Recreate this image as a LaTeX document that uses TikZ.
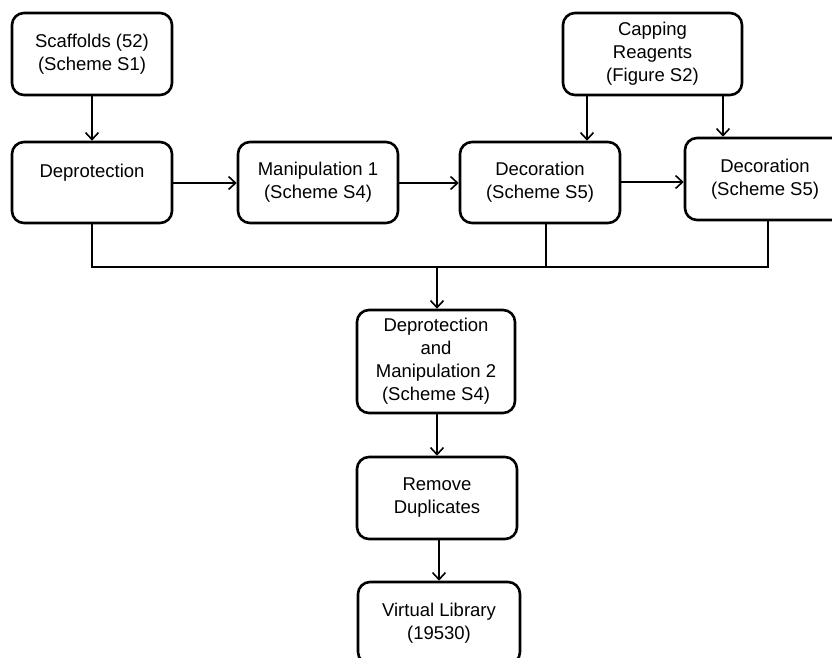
\documentclass[tikz,border=0pt]{standalone}
\usepackage{fontspec}
\setmainfont{Liberation Sans}
\usetikzlibrary{arrows.meta}
\tikzset{
  stepbox/.style={draw=black, line width=2.6pt, rounded corners=12pt, fill=white,
    align=center, inner sep=0pt, font=\fontsize{18.5}{23}\selectfont},
  conn/.style={draw=black, line width=2pt},
  arr/.style={conn, -{Straight Barb[length=7pt,width=13pt,line width=1.6pt]}}
}
\begin{document}
\begin{tikzpicture}[x=1pt,y=-1pt]
\useasboundingbox (0,0) rectangle (832,657);
\clip (0,0) rectangle (832,657);
\node[stepbox, minimum width=160pt, minimum height=82pt] (scaf) at (92,54) {Scaffolds (52)\\(Scheme S1)};
\node[stepbox, minimum width=160pt, minimum height=81pt] (dep) at (92,182.5) {Deprotection\\\mbox{}};
\node[stepbox, minimum width=160pt, minimum height=81pt] (man1) at (318,182.5) {Manipulation 1\\(Scheme S4)};
\node[stepbox, minimum width=160pt, minimum height=81pt] (dec1) at (540,182.5) {Decoration\\(Scheme S5)};
\node[stepbox, minimum width=160pt, minimum height=82pt] (dec2) at (765,179) {Decoration\\(Scheme S5)};
\node[stepbox, minimum width=179pt, minimum height=82pt] (cap) at (652.5,54) {Capping\\Reagents\\(Figure S2)};
\node[stepbox, minimum width=158pt, minimum height=103pt] (dm2) at (436,361.5) {Deprotection\\and\\Manipulation 2\\(Scheme S4)};
\node[stepbox, minimum width=160pt, minimum height=82pt] (rem) at (437,498) {Remove\\Duplicates};
\node[stepbox, minimum width=162pt, minimum height=82pt] (vl) at (439,623) {Virtual Library\\(19530)};
\coordinate (bus) at (437,267);
% vertical arrows
\draw[arr] (scaf.south) -- (dep.north);
\draw[arr] (cap.south -| 587,0) -- (dec1.north -| 587,0);
\draw[arr] (cap.south -| 723,0) -- (dec2.north -| 723,0);
% horizontal arrows
\draw[arr] (dep.east |- 0,183) -- (man1.west |- 0,183);
\draw[arr] (man1.east |- 0,183) -- (dec1.west |- 0,183);
\draw[arr] (dec1.east |- 0,182) -- (dec2.west |- 0,182);
% bus
\draw[conn] (dep.south) -- (dep.south |- bus) -- (bus -| 768,0) -- (dec2.south -| 768,0);
\draw[conn] (dec1.south -| 546,0) -- (bus -| 546,0);
\draw[arr] (bus) -- (dm2.north -| bus);
\draw[arr] (dm2.south -| bus) -- (rem.north -| bus);
\draw[arr] (rem.south -| 439,0) -- (vl.north -| 439,0);
\end{tikzpicture}
\end{document}
